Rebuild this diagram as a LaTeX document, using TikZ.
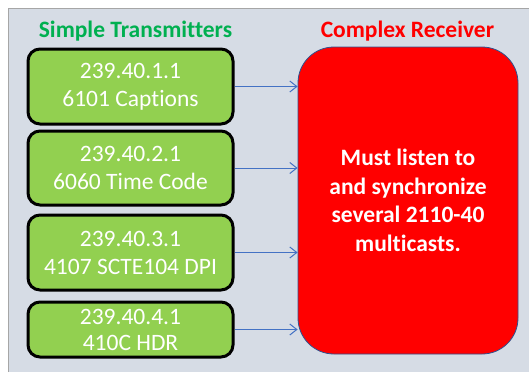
\documentclass[tikz,border=0pt]{standalone}
\usepackage{fontspec}
\setmainfont{Carlito}[Ligatures=NoCommon]
\usetikzlibrary{arrows.meta}
\definecolor{panel}{HTML}{D6DCE5}
\definecolor{panelline}{HTML}{A6A6A6}
\definecolor{txgreen}{HTML}{92D050}
\definecolor{ttlgreen}{HTML}{00B050}
\definecolor{rxblue}{HTML}{2F528F}
\definecolor{arrblue}{HTML}{4472C4}
\tikzset{
  txbox/.style={draw=black, line width=3pt, fill=txgreen, rounded corners=12pt,
    minimum width=205pt, text=white, align=center,
    font=\fontsize{23.5}{28}\selectfont},
  title/.style={font=\fontsize{23.5}{28}\selectfont\bfseries},
  feed/.style={draw=arrblue, line width=1pt, -{Straight Barb[length=7pt,width=11pt]}}
}
\begin{document}
\begin{tikzpicture}[x=1pt,y=-1pt]
  \useasboundingbox (0,0) rectangle (529,372);
  % background panel
  \fill[white] (0,0) rectangle (529,372);
  \fill[panel] (8,8) rectangle (529,372);
  \draw[panelline, line width=1pt] (8,372) -- (8,8) -- (529,8);

  \node[title, text=ttlgreen] (ttx) at (135.5,31) {Simple Transmitters};
  \node[title, text=red] (trx) at (407.5,31) {Complex Receiver};

  \node[txbox, minimum height=75pt] (tx1) at (130.5,86.5) {239.40.1.1\\6101 Captions};
  \node[txbox, minimum height=74pt] (tx2) at (130.5,168) {239.40.2.1\\6060 Time Code};
  \node[txbox, minimum height=75pt] (tx3) at (130.5,252.5) {239.40.3.1\\4107 SCTE104 DPI};
  \node[txbox, minimum height=55pt, font=\fontsize{23.5}{26}\selectfont] (tx4) at (130.5,329.5) {239.40.4.1\\410C HDR};

  \node[draw=rxblue, line width=0.8pt, fill=red, rounded corners=36pt,
    minimum width=220pt, minimum height=307pt, text=white, align=center,
    font=\fontsize{23.5}{28.5}\selectfont\bfseries] (rx) at (408,200.5)
    {Must listen to\\and synchronize\\several 2110-40\\multicasts.};

  \draw[feed] (tx1.east) -- (tx1.east -| rx.west);
  \draw[feed] (tx2.east) -- (tx2.east -| rx.west);
  \draw[feed] (tx3.east) -- (tx3.east -| rx.west);
  \draw[feed] (tx4.east) -- (tx4.east -| rx.west);
\end{tikzpicture}
\end{document}
